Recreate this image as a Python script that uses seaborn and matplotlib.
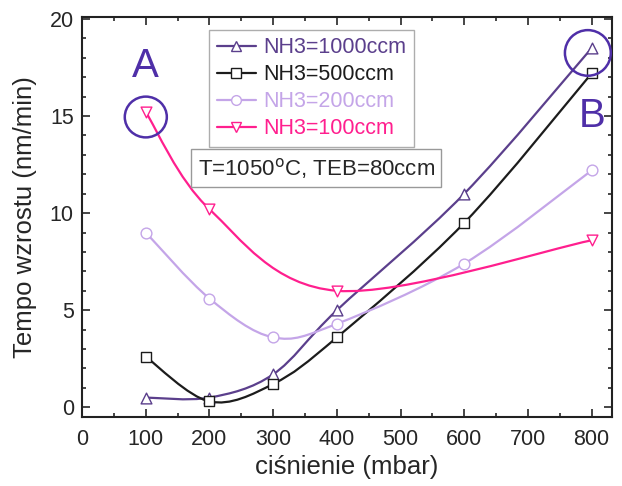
import numpy as np
import pandas as pd
import matplotlib
matplotlib.use("Agg")
import matplotlib.pyplot as plt
import seaborn as sns
from matplotlib.path import Path
from matplotlib.patches import PathPatch, Ellipse
from matplotlib.lines import Line2D
from matplotlib.ticker import MultipleLocator

# -----------------------------
# Data
# -----------------------------
p_1000 = [100, 200, 300, 400, 600, 800]
v_1000 = [0.5, 0.5, 1.7, 5.0, 11.0, 18.5]

p_500 = [100, 200, 300, 400, 600, 800]
v_500 = [2.6, 0.3, 1.2, 3.6, 9.5, 17.2]

p_200 = [100, 200, 300, 400, 600, 800]
v_200 = [9.0, 5.6, 3.6, 4.3, 7.4, 12.2]

p_100 = [100, 200, 400, 800]
v_100 = [15.2, 10.2, 6.0, 8.6]

labels = ["NH3=1000ccm", "NH3=500ccm", "NH3=200ccm", "NH3=100ccm"]
colors = ["#5b3f8c", "#1c1c1c", "#c4a5e8", "#ff1f8e"]
markers = ["^", "s", "o", "v"]

series = [(p_1000, v_1000), (p_500, v_500), (p_200, v_200), (p_100, v_100)]

df = pd.concat(
    [pd.DataFrame({"p": x, "v": y, "serie": lab}) for (x, y), lab in zip(series, labels)],
    ignore_index=True,
)

# -----------------------------
# Plot
# -----------------------------
sns.set_style("ticks")
plt.rcParams["font.family"] = ["Liberation Sans", "DejaVu Sans"]

fig = plt.figure(figsize=(6.22, 4.86), dpi=100)
ax = fig.add_axes([0.132, 0.142, 0.852, 0.823])


def smooth_path(x, y):
    # Catmull-Rom style cubic bezier through the points (drawing only)
    x = np.asarray(x, float)
    y = np.asarray(y, float)
    verts = [(x[0], y[0])]
    codes = [Path.MOVETO]
    n = len(x)
    for i in range(n - 1):
        x0, y0 = (x[i - 1], y[i - 1]) if i > 0 else (x[i], y[i])
        x3, y3 = (x[i + 2], y[i + 2]) if i + 2 < n else (x[i + 1], y[i + 1])
        c1 = (x[i] + (x[i + 1] - x0) / 6, y[i] + (y[i + 1] - y0) / 6)
        c2 = (x[i + 1] - (x3 - x[i]) / 6, y[i + 1] - (y3 - y[i]) / 6)
        verts += [c1, c2, (x[i + 1], y[i + 1])]
        codes += [Path.CURVE4] * 3
    return Path(verts, codes)


for (x, y), col in zip(series, colors):
    ax.add_patch(PathPatch(smooth_path(x, y), facecolor="none", edgecolor=col, lw=1.6, zorder=2))

for lab, col, mk in zip(labels, colors, markers):
    sub = df[df["serie"] == lab]
    sns.scatterplot(data=sub, x="p", y="v", ax=ax, marker=mk, s=60,
                    facecolor="white", edgecolor=col, linewidth=1.0, zorder=3, legend=False)

ax.set_xlim(0, 832)
ax.set_ylim(-0.5, 20.1)
ax.xaxis.set_major_locator(MultipleLocator(100))
ax.xaxis.set_minor_locator(MultipleLocator(50))
ax.yaxis.set_major_locator(MultipleLocator(5))
ax.yaxis.set_minor_locator(MultipleLocator(1))
ax.tick_params(which="both", direction="in", top=True, right=True, labelsize=15.5, width=1.2)
ax.tick_params(axis="x", which="major", length=6, pad=9)
ax.tick_params(axis="y", which="major", length=6, pad=6)
ax.tick_params(which="minor", length=3)
for s in ax.spines.values():
    s.set_linewidth(1.5)
    s.set_color("#222222")

ax.set_xlabel("ciśnienie (mbar)", fontsize=18.5, labelpad=3)
ax.set_ylabel("Tempo wzrostu (nm/min)", fontsize=18.5, labelpad=9)

handles = [Line2D([], [], color=c, marker=m, markerfacecolor="white", markersize=7, lw=1.6)
           for c, m in zip(colors, markers)]
leg = ax.legend(handles, labels, loc="upper left", bbox_to_anchor=(0.24, 0.968),
                borderaxespad=0, fontsize=15.5, frameon=True, fancybox=False,
                edgecolor="#999999", handlelength=1.8, handletextpad=0.35,
                borderpad=0.35, labelspacing=0.28)
leg.get_frame().set_linewidth(1.0)
for t, c in zip(leg.get_texts(), colors):
    t.set_color(c)

ax.text(0.218, 0.622, "T=1050$^{\\mathrm{o}}$C, TEB=80ccm", transform=ax.transAxes,
        fontsize=16, va="center", ha="left",
        bbox=dict(boxstyle="square,pad=0.3", facecolor="white", edgecolor="#999999", lw=1.0))

circ_col = "#4f2fa8"
ax.add_patch(Ellipse((100, 14.95), 66, 2.1, facecolor="none", edgecolor=circ_col, lw=1.8, clip_on=False, zorder=4))
ax.add_patch(Ellipse((794, 18.25), 72, 2.35, facecolor="none", edgecolor=circ_col, lw=1.8, clip_on=False, zorder=4))
ax.text(100, 17.6, "A", color=circ_col, fontsize=29, ha="center", va="center")
ax.text(800, 15.0, "B", color=circ_col, fontsize=29, ha="center", va="center")

fig.savefig("out.png", dpi=100)
